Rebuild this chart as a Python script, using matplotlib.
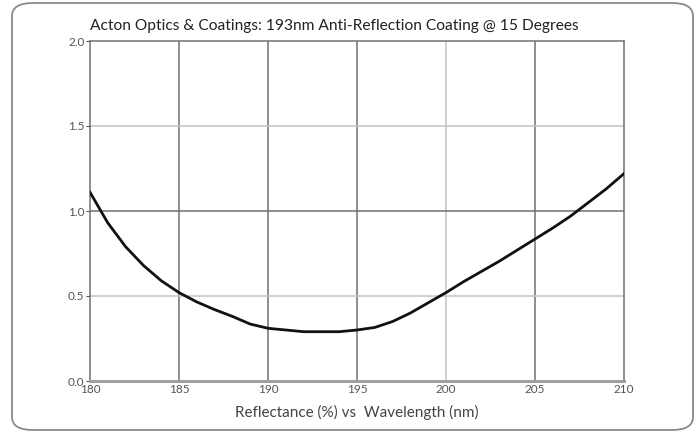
import matplotlib
matplotlib.use("Agg")
import matplotlib.pyplot as plt
from matplotlib.patches import FancyBboxPatch

# Reflectance curve
wavelength = [180, 181, 182, 183, 184, 185, 186, 187, 188, 189, 190,
              191, 192, 193, 194, 195, 196, 197, 198, 199, 200,
              201, 202, 203, 204, 205, 206, 207, 208, 209, 210]
reflectance = [1.11, 0.93, 0.79, 0.68, 0.59, 0.52, 0.465, 0.42, 0.38, 0.335, 0.31,
               0.30, 0.29, 0.29, 0.29, 0.30, 0.315, 0.35, 0.40, 0.46, 0.52,
               0.585, 0.645, 0.705, 0.77, 0.835, 0.90, 0.97, 1.05, 1.13, 1.22]

x_ticks = [180, 185, 190, 195, 200, 205, 210]
y_ticks = [0.0, 0.5, 1.0, 1.5, 2.0]
dark_x = [185, 190, 195, 205]
light_x = [200]
dark_y = [1.0]
light_y = [0.5, 1.5]

title = "Acton Optics & Coatings: 193nm Anti-Reflection Coating @ 15 Degrees"
xlabel = "Reflectance (%) vs  Wavelength (nm)"

plt.rcParams['font.family'] = ['Lato', 'DejaVu Sans']

fig = plt.figure(figsize=(6.96, 4.33), dpi=100)
ax = fig.add_axes([90 / 696, 52 / 433, 534 / 696, 340 / 433])

# outer rounded frame
frame = FancyBboxPatch((12 / 696, 3 / 433), 681 / 696, 427 / 433,
                       boxstyle="round,pad=0,rounding_size=0.03",
                       transform=fig.transFigure, fill=False,
                       edgecolor='#8a8a8a', linewidth=1.3)
fig.patches.append(frame)

for v in dark_x:
    ax.axvline(v, color='#707070', lw=1.1, zorder=1)
for v in light_x:
    ax.axvline(v, color='#c4c4c4', lw=1.1, zorder=1)
for v in dark_y:
    ax.axhline(v, color='#707070', lw=1.1, zorder=1)
for v in light_y:
    ax.axhline(v, color='#c4c4c4', lw=1.1, zorder=1)

ax.plot(wavelength, reflectance, color='#111111', lw=2.0, zorder=3)

ax.set_xlim(180, 210)
ax.set_ylim(0, 2.0)
ax.set_xticks(x_ticks)
ax.set_yticks(y_ticks)
ax.set_xticklabels([str(t) for t in x_ticks])
ax.set_yticklabels([f"{t:.1f}" for t in y_ticks])
ax.tick_params(axis='both', labelsize=8.5, colors='#555555', length=3, width=0.8, pad=1)
ax.tick_params(axis='x', length=0, pad=2)

for side in ['left', 'right', 'top']:
    ax.spines[side].set_color('#707070')
    ax.spines[side].set_linewidth(1.1)
ax.spines['bottom'].set_color('#a0a0a0')
ax.spines['bottom'].set_linewidth(2.2)

fig.text(90 / 696, 1 - 30 / 433, title, fontsize=11.2, color='#222222',
         ha='left', va='baseline')
fig.text(357 / 696, 1 - 412 / 433, xlabel, fontsize=11, color='#444444',
         ha='center', va='center')

fig.savefig("out.png", dpi=100)
